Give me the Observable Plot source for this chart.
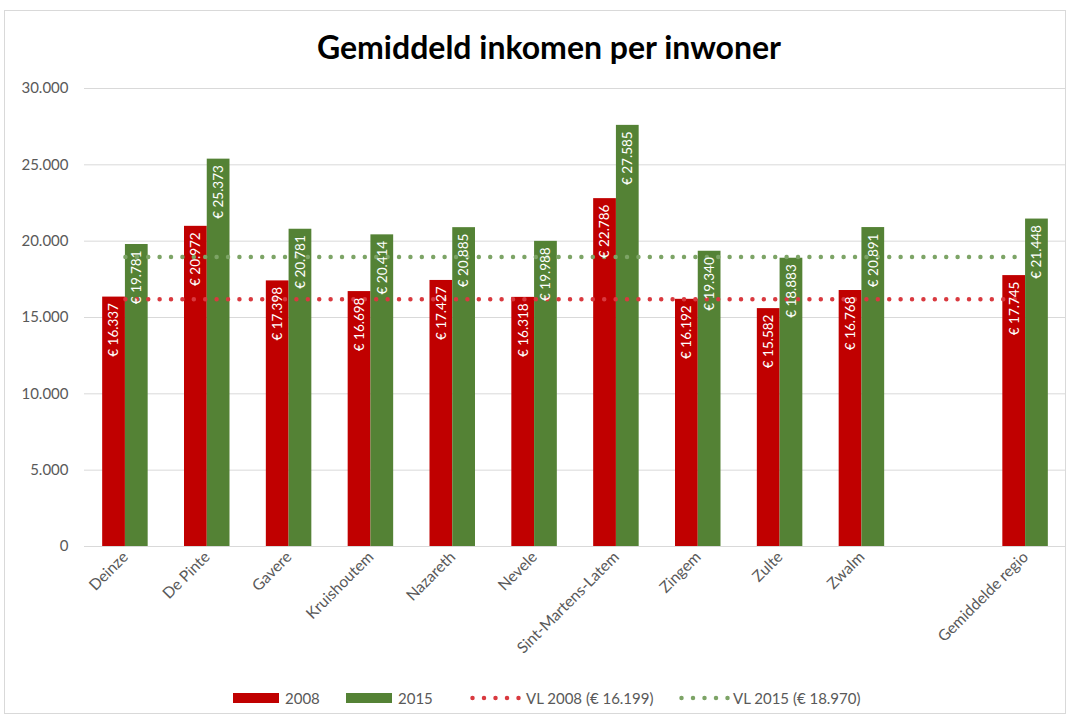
<!DOCTYPE html>
<html><head><meta charset="utf-8">
<script src="https://cdn.jsdelivr.net/npm/d3@7"></script>
<script src="https://cdn.jsdelivr.net/npm/@observablehq/plot@0.6"></script>
<style>
body{margin:0;background:#fff;font-family:Lato,"Open Sans",sans-serif;}
#frame{position:absolute;left:4px;top:10px;width:1062px;height:704px;border:1px solid #d9d9d9;box-sizing:border-box;}
#title{position:absolute;left:0;top:28px;width:1098px;text-align:center;font-weight:bold;font-size:32px;color:#000;line-height:38px;z-index:2;}
#chart{position:absolute;left:0;top:70px;}
.leg{position:absolute;top:690px;display:flex;align-items:center;font-size:15px;color:#595959;height:16px;white-space:nowrap;}
.sw{display:inline-block;width:46px;height:10px;margin-right:6px;}
</style></head>
<body>
<div id="frame"></div>
<div id="title">Gemiddeld inkomen per inwoner</div>
<div id="chart"></div>
<div class="leg" style="left:233px"><span class="sw" style="background:#c00000"></span>2008</div>
<div class="leg" style="left:346px"><span class="sw" style="background:#548235"></span>2015</div>
<div class="leg" style="left:470px"><svg width="54" height="8" style="margin-right:2px"><line x1="2.5" x2="50" y1="4" y2="4" stroke="#d9393f" stroke-width="4.5" stroke-linecap="round" stroke-dasharray="0 11.5"/></svg>VL 2008 (€ 16.199)</div>
<div class="leg" style="left:679px"><svg width="54" height="8" style="margin-right:0px"><line x1="2.5" x2="50" y1="4" y2="4" stroke="#7da466" stroke-width="4.5" stroke-linecap="round" stroke-dasharray="0 11.5"/></svg>VL 2015 (€ 18.970)</div>
<script>
const categories = ["Deinze","De Pinte","Gavere","Kruishoutem","Nazareth","Nevele","Sint-Martens-Latem","Zingem","Zulte","Zwalm","","Gemiddelde regio"];
const values2008 = [16337,20972,17398,16698,17427,16318,22786,16192,15582,16768,null,17745];
const values2015 = [19781,25373,20781,20414,20885,19988,27585,19340,18883,20891,null,21448];
const vl2008 = 16199;
const vl2015 = 18970;
const yTicks = [0,5000,10000,15000,20000,25000,30000];

const nl = d3.formatLocale({decimal:",", thousands:".", grouping:[3], currency:["€ ",""]});
const fmt = nl.format(",d");

const rows2008 = categories.map((c,i)=>({cat:c, value:values2008[i]})).filter(d=>d.value!=null);
const rows2015 = categories.map((c,i)=>({cat:c, value:values2015[i]})).filter(d=>d.value!=null);
const line2008 = categories.map(c=>({cat:c, value:vl2008}));
const line2015 = categories.map(c=>({cat:c, value:vl2015}));

const W = 1074, mL = 84, mR = 8;
const step = (W - mL - mR) / categories.length;
const bw = 22.75;
const half = step/2;

const chart = Plot.plot({
  width: W, height: 610,
  marginLeft: mL, marginRight: mR, marginTop: 18, marginBottom: 134,
  style: {fontFamily: "Lato, 'Open Sans', sans-serif", fontSize: "15.5px", color: "#595959", background: "transparent"},
  x: {domain: categories, padding: 0, round: false, label: null},
  y: {domain: [0, 30000], label: null},
  marks: [
    Plot.gridY(yTicks, {stroke: "#d9d9d9", strokeOpacity: 1, strokeWidth: 1}),
    Plot.axisY(yTicks, {tickSize: 0, tickPadding: 16, tickFormat: fmt, label: null, fill: "#595959", fontSize: 15}),
    Plot.axisX({tickSize: 0, tickPadding: 8, tickRotate: -45, label: null, fill: "#595959"}),
    Plot.barY(rows2008, {x: "cat", y: "value", fill: "#c00000", insetLeft: half - bw, insetRight: half}),
    Plot.barY(rows2015, {x: "cat", y: "value", fill: "#548235", insetLeft: half, insetRight: half - bw}),
    Plot.lineY(line2008, {x: "cat", y: "value", stroke: "#d9393f", strokeWidth: 4.5, strokeLinecap: "round", strokeDasharray: "0 11.4"}),
    Plot.lineY(line2015, {x: "cat", y: "value", stroke: "#7da466", strokeWidth: 4.5, strokeLinecap: "round", strokeDasharray: "0 11.4"}),
    Plot.text(rows2008, {x: "cat", y: "value", text: d => "€ " + fmt(d.value), rotate: -90, textAnchor: "end", dx: -bw/2, dy: 6, fill: "white", fontSize: 13.5}),
    Plot.text(rows2015, {x: "cat", y: "value", text: d => "€ " + fmt(d.value), rotate: -90, textAnchor: "end", dx: bw/2, dy: 6, fill: "white", fontSize: 13.5})
  ]
});
document.getElementById("chart").appendChild(chart);
</script>
</body></html>
